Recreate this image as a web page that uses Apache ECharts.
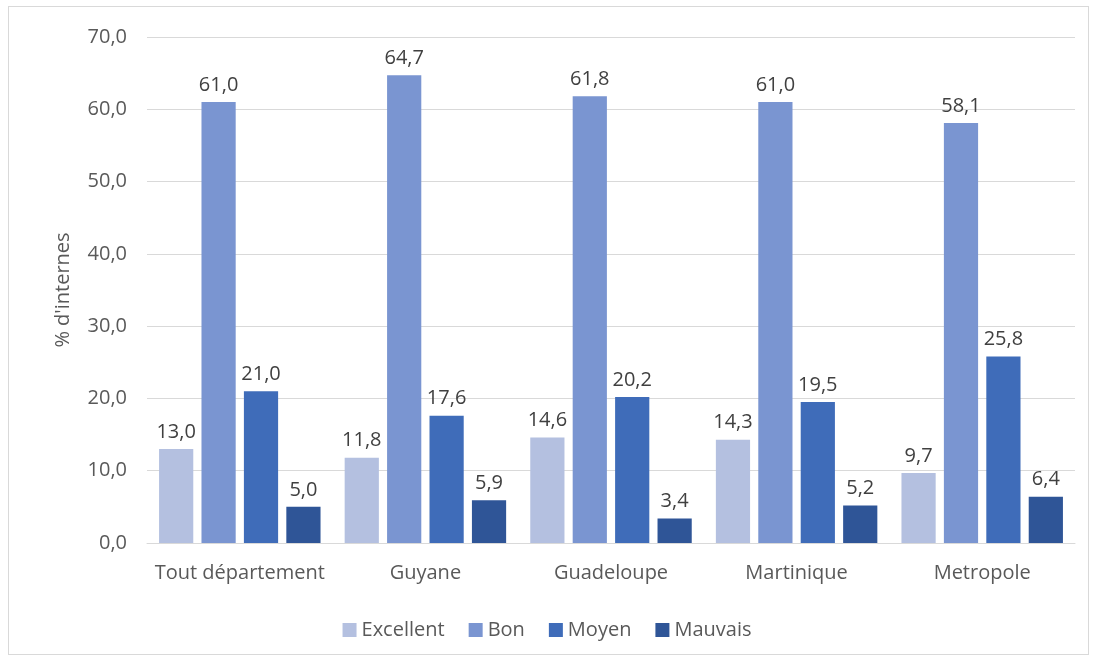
<!DOCTYPE html>
<html>
<head>
	<meta charset="utf-8">
	<title>% d'internes</title>
	<script src="https://cdn.jsdelivr.net/npm/echarts@6/dist/echarts.min.js"></script>
	<style>
		body { margin: 0; background: #fff; }
		#frame { position: absolute; left: 8px; top: 6px; width: 1081px; height: 649px; border: 1px solid #d9d9d9; box-sizing: border-box; }
		#main { width: 1094px; height: 660px; }
	</style>
</head>
<body>
	<div id="frame"></div>
	<div id="main"></div>
	<script type="text/javascript">
		// données
		var categories = ['Tout département', 'Guyane', 'Guadeloupe', 'Martinique', 'Metropole'];
		var excellent = [13.0, 11.8, 14.6, 14.3, 9.7];
		var bon = [61.0, 64.7, 61.8, 61.0, 58.1];
		var moyen = [21.0, 17.6, 20.2, 19.5, 25.8];
		var mauvais = [5.0, 5.9, 3.4, 5.2, 6.4];

		var fontName = '"Open Sans", "Liberation Sans", sans-serif';
		var fs = 20;
		var myChart = echarts.init(document.getElementById('main'));

		function makeSeries(name, data, color) {
			return {
				name: name,
				type: 'bar',
				data: data,
				barGap: '24%',
				barCategoryGap: '13%',
				itemStyle: { color: color },
				label: {
					show: true,
					position: 'top',
					distance: 7,
					color: '#404040',
					fontSize: fs,
					fontFamily: fontName,
					formatter: function (p) { return p.value.toFixed(1).replace('.', ','); }
				}
			};
		}

		var option = {
			animation: false,
			textStyle: { fontFamily: fontName },
			grid: { left: 147, right: 19, top: 37, bottom: 117 },
			legend: {
				bottom: 15,
				left: 'center',
				itemWidth: 14,
				itemHeight: 14,
				itemGap: 24,
				icon: 'rect',
				textStyle: { color: '#595959', fontSize: fs, fontFamily: fontName },
				data: ['Excellent', 'Bon', 'Moyen', 'Mauvais']
			},
			xAxis: {
				type: 'category',
				data: categories,
				axisTick: { show: false },
				axisLine: { lineStyle: { color: '#d9d9d9' } },
				axisLabel: { color: '#595959', fontSize: fs, margin: 20, interval: 0, fontFamily: fontName }
			},
			yAxis: {
				type: 'value',
				min: 0,
				max: 70,
				interval: 10,
				name: "% d'internes",
				nameLocation: 'middle',
				nameGap: 74,
				nameRotate: 90,
				nameTextStyle: { color: '#595959', fontSize: fs, fontFamily: fontName },
				axisLabel: {
					color: '#595959', fontSize: fs, margin: 20, fontFamily: fontName,
					formatter: function (v) { return v.toFixed(1).replace('.', ','); }
				},
				splitLine: { lineStyle: { color: '#d9d9d9' } }
			},
			series: [
				makeSeries('Excellent', excellent, '#b4c0e0'),
				makeSeries('Bon', bon, '#7a95d1'),
				makeSeries('Moyen', moyen, '#3f6cb9'),
				makeSeries('Mauvais', mauvais, '#2f5597')
			]
		};

		myChart.setOption(option);
	</script>
</body>
</html>
